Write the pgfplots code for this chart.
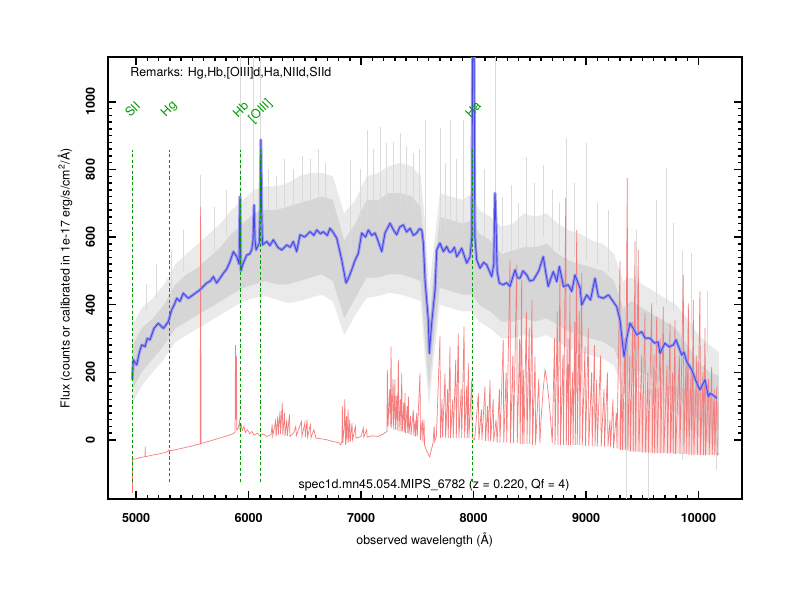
\documentclass[border=0pt]{standalone}
\usepackage{pgfplots}
\pgfplotsset{compat=1.18}
\usepackage{pgfplotstable}
\usepgfplotslibrary{fillbetween}
\usepackage{fontspec}
\setmainfont{TeX Gyre Heros}
\definecolor{grayout}{RGB}{234,234,234}
\definecolor{graycore}{RGB}{214,214,214}
\definecolor{grayspike}{RGB}{218,218,218}
\definecolor{skyred}{RGB}{244,125,125}
\definecolor{bandblue}{RGB}{155,155,240}
\definecolor{lineblue}{RGB}{70,70,225}
\definecolor{linegreen}{RGB}{0,155,0}

\pgfplotstableread{
x lo2 lo1 hi1 hi2
4970 110 150 280 340
5050 160 200 330 390
5150 200 240 360 420
5250 240 280 400 460
5350 290 330 460 520
5450 310 350 490 550
5550 330 370 510 580
5650 350 390 540 610
5750 370 410 570 640
5850 390 430 610 680
5950 410 450 640 710
6050 420 460 670 740
6150 425 470 680 750
6250 415 460 680 750
6350 405 460 690 760
6450 410 470 700 780
6550 420 480 710 790
6650 430 490 720 790
6750 410 470 710 780
6850 310 360 590 670
6950 370 420 640 710
7050 420 480 710 780
7150 425 480 710 790
7250 435 490 730 810
7350 430 490 730 820
7450 420 480 720 810
7530 410 470 690 780
7570 230 290 550 640
7605 100 150 340 440
7640 220 270 470 550
7700 400 450 660 730
7800 390 440 650 720
7900 380 430 640 710
7990 380 430 650 730
8050 350 400 610 680
8150 330 380 590 660
8250 300 350 550 630
8350 300 350 560 640
8450 310 360 570 670
8550 300 350 570 660
8650 310 360 580 670
8750 290 340 550 640
8850 270 320 530 620
8950 260 310 520 610
9050 250 300 510 590
9150 240 290 500 580
9250 220 270 470 550
9330 140 190 390 470
9400 160 210 410 480
9500 150 200 390 460
9600 130 180 370 440
9700 110 160 350 420
9800 80 130 330 400
9900 50 100 280 360
10000 10 60 230 310
10100 -10 40 200 280
10180 -20 30 190 260
}\grayband

\pgfplotstableread{
x y
5090 380
5090 460
nan nan
5180 420
5180 520
nan nan
5317 420
5317 562
nan nan
5420 500
5420 620
nan nan
5575 450
5575 784
nan nan
5700 560
5700 690
nan nan
5800 600
5800 740
nan nan
5924 600
5924 1140
nan nan
6043 600
6043 1140
nan nan
6102 620
6102 1140
nan nan
6180 680
6180 800
nan nan
6250 650
6250 780
nan nan
6320 690
6320 830
nan nan
6400 680
6400 800
nan nan
6480 700
6480 840
nan nan
6550 700
6550 830
nan nan
6620 700
6620 860
nan nan
6680 700
6680 820
nan nan
6902 500
6902 828
nan nan
6990 620
6990 800
nan nan
7053 650
7053 917
nan nan
7110 700
7110 860
nan nan
7169 650
7169 926
nan nan
7229 650
7229 878
nan nan
7290 700
7290 880
nan nan
7347 680
7347 908
nan nan
7400 700
7400 870
nan nan
7462 650
7462 849
nan nan
7520 680
7520 860
nan nan
7569 600
7569 947
nan nan
7702 600
7702 923
nan nan
7750 620
7750 820
nan nan
7791 600
7791 947
nan nan
7850 620
7850 830
nan nan
7907 600
7907 947
nan nan
8100 600
8100 800
nan nan
8191 650
8191 1140
nan nan
8260 560
8260 720
nan nan
8339 560
8339 754
nan nan
8400 560
8400 700
nan nan
8473 560
8473 838
nan nan
8540 560
8540 760
nan nan
8620 600
8620 813
nan nan
8700 560
8700 740
nan nan
8760 560
8760 700
nan nan
8828 560
8828 893
nan nan
8900 540
8900 760
nan nan
9006 530
9006 878
nan nan
9100 520
9100 700
nan nan
9200 500
9200 680
nan nan
9450 420
9450 620
nan nan
9628 400
9628 710
nan nan
9717 400
9717 804
nan nan
9773 380
9773 642
nan nan
9860 340
9860 560
nan nan
9940 300
9940 553
nan nan
10080 260
10080 440
nan nan
9362 250
9362 -180
nan nan
9554 150
9554 -180
nan nan
9860 100
9860 -60
nan nan
10160 100
10160 -90
nan nan
}\grayspikes

\pgfplotstableread{
x lo hi
9280 -25 40
9330 -30 110
9450 -35 140
9600 -38 150
9750 -40 160
9900 -42 150
10050 -45 140
10180 -42 110
}\redband

\pgfplotstableread{
x y
4968 -157
4969 -57
5000 -56
5040 -52
5080 -50
5081 -20
5083 -50
5120 -47
5160 -44
5200 -42
5240 -39
5280 -35
5290 -30
5300 -32
5340 -30
5380 -27
5420 -24
5460 -21
5500 -18
5540 -14
5570 -12
5574 690
5578 -11
5620 -7
5660 -3
5700 1
5740 5
5780 9
5820 13
5860 18
5880 22
5884 280
5888 60
5892 250
5896 30
5910 35
5920 55
5925 30
5935 45
5945 28
5960 40
5970 22
5990 30
6010 18
6030 25
6050 14
6080 20
6100 12
6130 18
6160 10
6200 15
6210 45
6215 12
6240 55
6245 10
6260 70
6265 15
6280 85
6285 18
6300 110
6305 15
6320 80
6325 12
6340 60
6345 12
6364 75
6368 10
6400 20
6420 40
6425 12
6470 55
6475 10
6500 50
6505 8
6520 60
6525 8
6550 45
6555 6
6580 30
6600 5
6650 3
6700 0
6750 -5
6800 -8
6820 -15
6830 -5
6834 100
6838 -10
6850 40
6856 120
6862 -15
6870 70
6875 -10
6885 90
6890 -8
6900 60
6905 -5
6920 50
6925 0
6950 40
6955 5
7000 10
7020 35
7025 8
7050 30
7055 8
7100 12
7150 10
7200 18
7230 25
7234 207
7240 40
7255 150
7260 40
7267 276
7272 35
7285 180
7290 30
7302 178
7306 30
7318 130
7322 28
7332 237
7337 25
7350 120
7355 25
7362 197
7367 25
7380 110
7385 22
7391 138
7395 20
7410 100
7415 20
7421 128
7426 18
7440 70
7445 15
7465 89
7470 12
7480 60
7485 10
7495 79
7500 10
7524 197
7529 0
7545 60
7550 -5
7560 59
7565 -15
7580 -30
7600 -44
7610 -50
7625 -30
7640 -10
7650 40
7655 -5
7670 10
7702 306
7706 5
7720 120
7725 8
7747 197
7752 5
7770 150
7775 5
7791 276
7796 5
7815 120
7820 5
7842 237
7847 5
7865 315
7870 5
7890 150
7895 5
7916 335
7921 5
7940 160
7945 5
7954 227
7959 5
7984 178
7989 5
8010 0
8043 138
8048 0
8070 90
8075 0
8102 158
8107 -3
8125 100
8130 -3
8147 178
8152 -5
8175 120
8180 -5
8200 60
8210 -8
8230 150
8235 -8
8264 296
8269 -8
8290 200
8295 -8
8324 533
8329 -10
8350 250
8355 -10
8384 518
8389 -10
8410 300
8415 -12
8428 473
8433 -12
8443 207
8448 -12
8470 380
8475 -12
8495 330
8500 -12
8520 414
8525 -15
8547 246
8552 -15
8580 180
8590 -10
8600 60
8620 150
8636 207
8650 180
8670 120
8690 40
8700 -10
8720 300
8725 -15
8745 380
8750 -15
8769 503
8774 -15
8795 250
8800 -15
8820 716
8825 -15
8840 300
8845 -15
8858 434
8863 -15
8880 200
8885 -15
8900 350
8905 -15
8917 621
8922 -15
8940 380
8945 -15
8962 493
8967 -15
8991 276
8996 -18
9020 330
9025 -18
9050 200
9055 -18
9075 280
9080 -18
9095 178
9100 -20
9130 250
9135 -20
9160 150
9165 -20
9190 200
9195 -20
9213 59
9218 -20
9240 120
9245 -25
9270 80
9275 -25
9302 528
9307 -30
9320 200
9325 -30
9345 300
9350 -30
9367 775
9372 -30
9390 250
9395 -35
9415 350
9420 -35
9436 587
9441 -35
9465 562
9470 -35
9495 250
9500 -38
9524 375
9529 -38
9550 200
9555 -38
9584 404
9589 -40
9605 250
9610 -40
9628 365
9633 -40
9660 300
9665 -40
9687 394
9692 -40
9720 220
9725 -40
9747 345
9752 -40
9770 200
9775 -40
9791 355
9796 -42
9830 250
9835 -42
9865 488
9870 -42
9890 250
9895 -42
9910 404
9915 -45
9935 220
9940 -45
9954 414
9959 -45
9985 250
9990 -45
10013 439
10018 -45
10040 200
10045 -45
10058 331
10063 -45
10090 180
10095 -45
10117 217
10122 -45
10140 150
10145 -45
10162 158
10167 -45
10180 -40
}\skyspec

\pgfplotstableread{
x y
4967 178
4976 237
5006 222
5030 260
5051 281
5080 276
5100 300
5124 296
5160 330
5198 345
5243 330
5287 350
5317 385
5340 400
5362 419
5390 410
5420 434
5465 419
5510 430
5569 444
5600 455
5628 464
5660 470
5687 483
5717 464
5750 480
5776 493
5805 505
5836 528
5865 557
5895 542
5916 520
5924 720
5932 500
5950 520
5984 547
6010 550
6028 562
6040 590
6049 695
6058 590
6067 562
6096 583
6104 680
6110 888
6116 690
6124 577
6162 587
6190 575
6220 592
6260 570
6295 562
6340 577
6370 570
6398 587
6428 557
6458 607
6500 600
6547 616
6580 605
6606 621
6640 610
6665 616
6700 605
6724 626
6750 615
6784 597
6828 533
6867 464
6890 480
6917 503
6945 530
6976 552
7006 612
7040 600
7065 621
7095 605
7124 612
7150 590
7184 557
7213 612
7258 641
7290 620
7317 607
7345 630
7376 636
7405 615
7436 626
7465 605
7495 612
7520 625
7540 621
7554 582
7569 473
7598 355
7607 256
7628 345
7658 444
7673 562
7702 582
7732 557
7762 572
7785 555
7806 557
7830 570
7851 542
7875 555
7895 567
7940 523
7969 542
7985 600
7993 1250
8003 1250
8012 600
8028 533
8058 508
8090 525
8117 518
8140 500
8162 483
8180 520
8191 730
8200 640
8210 500
8229 464
8264 459
8295 465
8324 454
8369 503
8390 480
8413 478
8440 500
8473 488
8500 470
8532 473
8580 500
8620 542
8640 500
8664 454
8690 480
8709 498
8740 468
8763 513
8800 454
8843 459
8873 439
8902 488
8947 449
8962 399
9006 429
9040 414
9080 478
9110 424
9154 419
9200 429
9240 410
9273 394
9302 355
9338 246
9365 306
9391 345
9420 330
9450 311
9495 320
9525 301
9569 301
9610 286
9640 290
9658 256
9700 286
9740 275
9776 281
9800 296
9850 251
9870 260
9895 232
9940 207
9985 168
10013 148
10058 178
10087 128
10103 138
10147 128
10162 123
}\objspec

\begin{document}
\begin{tikzpicture}
\begin{axis}[
  at={(53.85pt,50.5pt)}, anchor=south west,
  width=317pt, height=220.85pt, scale only axis,
  xmin=4748, xmax=10384, ymin=-175, ymax=1132,
  xtick={5000,6000,7000,8000,9000,10000},
  ytick={0,200,400,600,800,1000},
  scaled x ticks=false, scaled y ticks=false,
  minor x tick num=9, minor y tick num=9,
  tick align=inside,
  major tick length=4pt, minor tick length=2pt,
  every tick/.style={black, line width=0.75pt},
  axis line style={line width=1.1pt},
  /pgf/number format/assume math mode=true,
  /pgf/number format/set thousands separator={},
  ticklabel style={font=\fontsize{6.3}{7.5}\selectfont\bfseries},
  xticklabel style={yshift=-3.5pt},
  yticklabel style={xshift=-2.8pt, rotate=90, anchor=south},
  every axis x label/.style={at={(axis description cs:0.5,-0.093)}, anchor=center, font=\fontsize{6.2}{7.5}\selectfont},
  every axis y label/.style={at={(axis description cs:-0.0672,0.5)}, rotate=90, anchor=center, font=\fontsize{6.2}{7.5}\selectfont},
  xlabel={observed wavelength (Å)},
  ylabel={Flux (counts or calibrated in 1e-17 erg/s/cm\textsuperscript{2}/Å)},
  unbounded coords=jump,
]
% gray exposures: outer and dense bands
\addplot[draw=none, name path=olo] table[x=x, y=lo2]{\grayband};
\addplot[draw=none, name path=ohi] table[x=x, y=hi2]{\grayband};
\addplot[fill=grayout, draw=none] fill between[of=olo and ohi];
\addplot[draw=none, name path=clo] table[x=x, y=lo1]{\grayband};
\addplot[draw=none, name path=chi] table[x=x, y=hi1]{\grayband};
\addplot[fill=graycore, draw=none] fill between[of=clo and chi];
\addplot[grayspike, line width=0.35pt] table[x=x, y=y]{\grayspikes};
% sky spectrum
\addplot[draw=none, name path=rlo] table[x=x, y=lo]{\redband};
\addplot[draw=none, name path=rhi] table[x=x, y=hi]{\redband};
\addplot[fill=skyred, fill opacity=0.25, draw=none] fill between[of=rlo and rhi];
\addplot[skyred, line width=0.35pt] table[x=x, y=y]{\skyspec};
% object spectrum with error band
\addplot[bandblue, line width=1.5pt, line join=round] table[x=x, y=y]{\objspec};
\addplot[lineblue, line width=0.45pt, line join=round] table[x=x, y=y]{\objspec};
% line markers
\addplot[draw=linegreen, line width=0.65pt, dash pattern=on 1.6pt off 1.2pt] coordinates {(4966,-125) (4966,858)};
\addplot[draw=linegreen, line width=0.65pt, dash pattern=on 1.6pt off 1.2pt] coordinates {(5299,-125) (5299,858)};
\addplot[draw=linegreen, line width=0.65pt, dash pattern=on 1.6pt off 1.2pt] coordinates {(5926,-125) (5926,858)};
\addplot[draw=linegreen, line width=0.65pt, dash pattern=on 1.6pt off 1.2pt] coordinates {(6104,-125) (6104,858)};
\addplot[draw=linegreen, line width=0.65pt, dash pattern=on 1.6pt off 1.2pt] coordinates {(7993,-125) (7993,858)};
\begin{scope}[every node/.style={font=\fontsize{6.2}{7.5}\selectfont, text=linegreen, rotate=45, anchor=center, inner sep=0pt}]
\node at (axis cs:4968,978) {SII};
\node at (axis cs:5296,978) {Hg};
\node at (axis cs:5929,978) {Hb};
\node at (axis cs:6106,972) {[OIII]};
\node at (axis cs:7996,978) {Ha};
\end{scope}
\node[font=\fontsize{6.2}{7.5}\selectfont, anchor=west, inner sep=0pt] at (axis cs:4947,1086) {Remarks: Hg,Hb,[OIII]d,Ha,NIId,SIId};
\node[font=\fontsize{6.2}{7.5}\selectfont, anchor=center, inner sep=0pt] at (axis cs:7649,-133) {spec1d.mn45.054.MIPS\_6782 (z = 0.220, Qf = 4)};
\end{axis}
\pgfresetboundingbox
\path[use as bounding box] (0,0) rectangle (400pt,300pt);
\end{tikzpicture}
\end{document}
